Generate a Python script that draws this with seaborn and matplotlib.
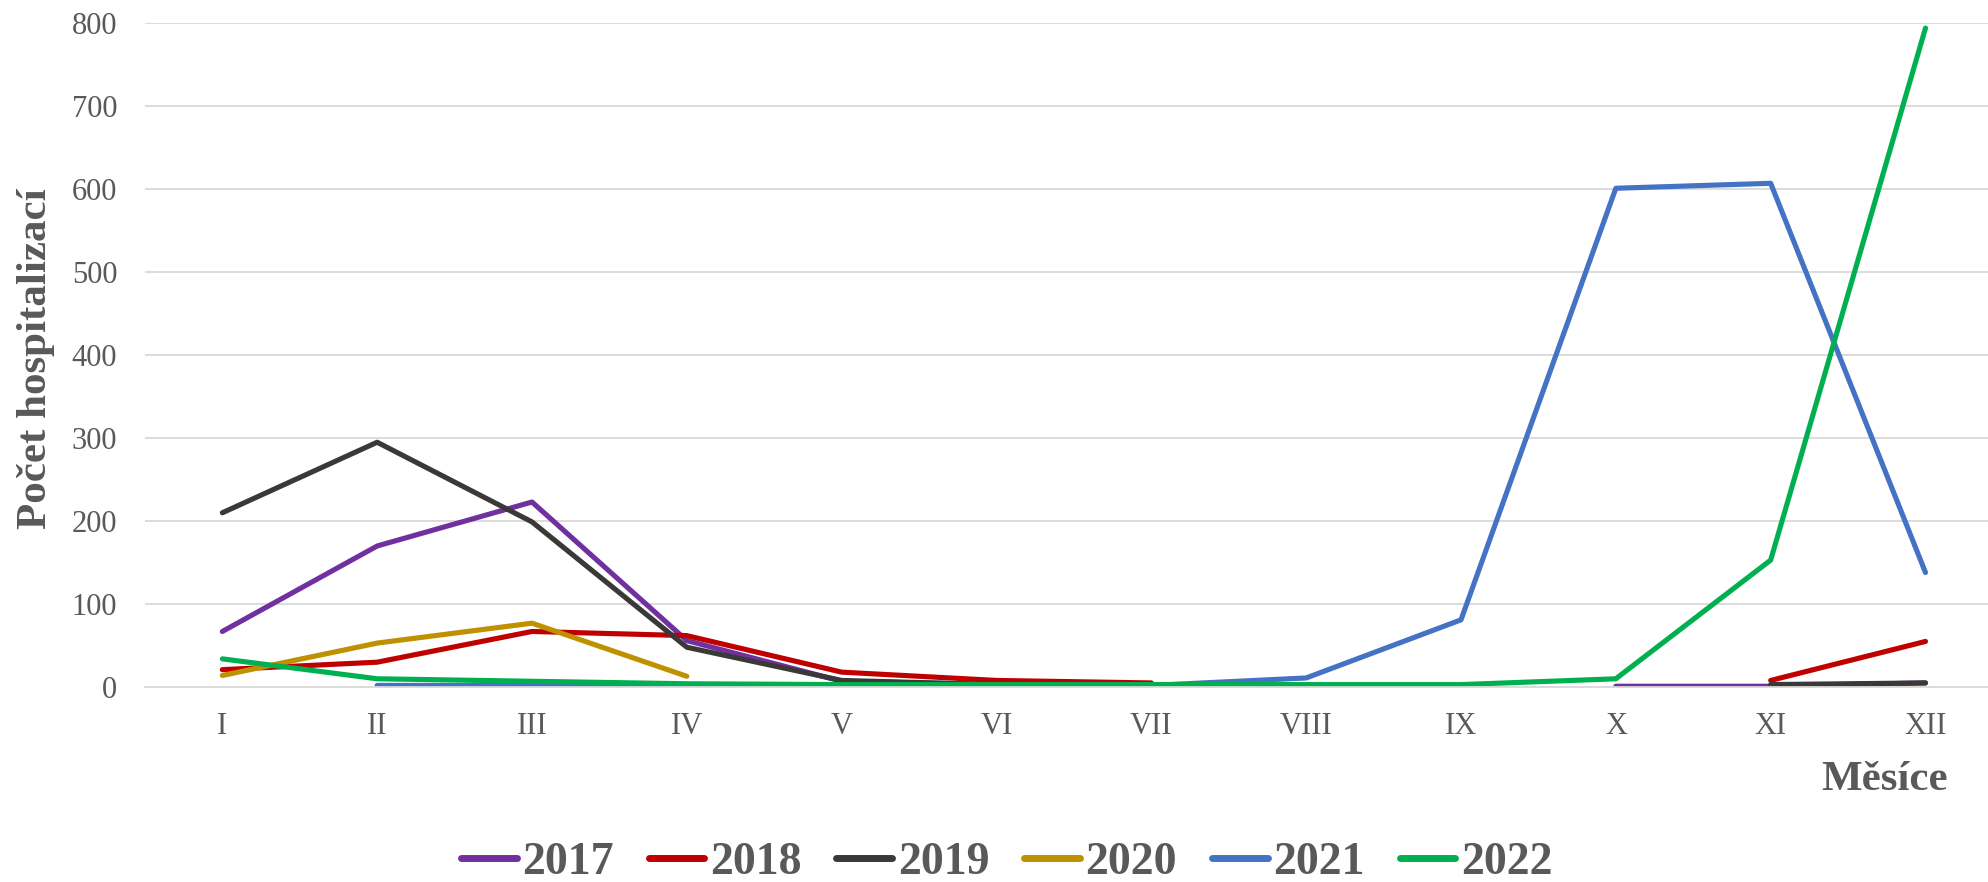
import numpy as np
import pandas as pd
import matplotlib
matplotlib.use("Agg")
import matplotlib.pyplot as plt
import seaborn as sns

nan = np.nan

# monthly counts, one list per year
months = ["I", "II", "III", "IV", "V", "VI", "VII", "VIII", "IX", "X", "XI", "XII"]
v2017 = [67, 170, 223, 56, 7, 3, nan, nan, nan, 1, 1, 5]
v2018 = [21, 30, 67, 62, 18, 8, 5, nan, nan, nan, 8, 55]
v2019 = [210, 295, 199, 48, 8, 3, nan, nan, nan, nan, 3, 5]
v2020 = [14, 53, 77, 13, nan, nan, nan, nan, nan, nan, nan, nan]
v2021 = [nan, 2, 2, 2, 2, 2, 2, 11, 81, 601, 607, 138]
v2022 = [34, 10, 7, 4, 3, 3, 3, 3, 3, 10, 153, 794]

years = ["2017", "2018", "2019", "2020", "2021", "2022"]
colors = ["#7030A0", "#C00000", "#3B3838", "#BF9000", "#4472C4", "#00B050"]

# long table, with a segment id so gaps are not bridged
rows = []
for year, vals in zip(years, [v2017, v2018, v2019, v2020, v2021, v2022]):
    seg = 0
    for i, v in enumerate(vals):
        if np.isnan(v):
            seg += 1
            continue
        rows.append({"month": i, "value": v, "year": year, "seg": f"{year}-{seg}"})
df = pd.DataFrame(rows)

sns.set_theme(style="white")
plt.rcParams["font.family"] = ["Liberation Serif", "DejaVu Serif"]
text_col = "#595959"

fig = plt.figure(figsize=(19.88, 8.82), dpi=100)
ax = fig.add_axes([0.0729, 0.221, 0.9346, 0.7528])

sns.lineplot(data=df, x="month", y="value", hue="year", units="seg",
             estimator=None, palette=dict(zip(years, colors)),
             linewidth=3.7, ax=ax, legend=True, sort=True)
for ln in ax.get_lines():
    ln.set_solid_capstyle("round")
    ln.set_solid_joinstyle("round")

ax.set_xlim(-0.5, 11.5)
ax.set_ylim(0, 800)
ax.set_yticks(range(0, 801, 100))
ax.set_xticks(range(12))
ax.set_xticklabels(months)
ax.grid(axis="y", color="#D9D9D9", linewidth=1.3)
ax.set_axisbelow(True)
for s in ["top", "right", "left"]:
    ax.spines[s].set_visible(False)
ax.spines["bottom"].set_color("#D9D9D9")
ax.spines["bottom"].set_linewidth(1.3)
ax.tick_params(axis="both", length=0, labelsize=22, colors=text_col)
ax.tick_params(axis="y", pad=20)
ax.tick_params(axis="x", pad=18)
ax.set_xlabel("")
ax.set_ylabel("")

fig.text(0.0181, 0.593, "Počet hospitalizací", rotation=90, ha="center", va="center",
         fontsize=31, fontweight="bold", color=text_col)
fig.text(0.980, 0.1156, "Měsíce", ha="right", va="center",
         fontsize=31, fontweight="bold", color=text_col)

handles, labels = ax.get_legend_handles_labels()
ax.get_legend().remove()
leg = fig.legend(handles, labels, loc="center", bbox_to_anchor=(0.5063, 0.022),
                 ncol=6, frameon=False, handlelength=1.22, handletextpad=0.12,
                 columnspacing=0.76, borderpad=0.1,
                 prop={"size": 33, "weight": "bold"})
for t in leg.get_texts():
    t.set_color(text_col)
for h in leg.get_lines():
    h.set_linewidth(5)
    h.set_solid_capstyle("round")

fig.savefig("out.png", dpi=100)
